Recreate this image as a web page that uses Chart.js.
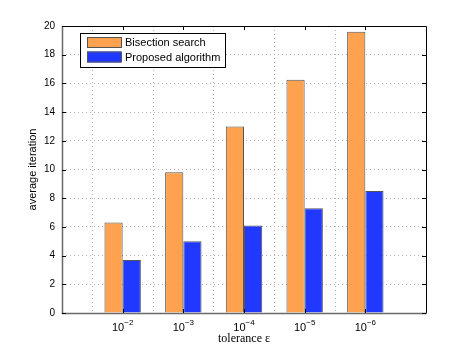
<!DOCTYPE html>
<html>
<head>
<meta charset="utf-8">
<script src="https://cdn.jsdelivr.net/npm/chart.js@4.4.0/dist/chart.umd.min.js"></script>
<style>
  html, body { margin: 0; padding: 0; background: #fff; }
  #wrap { width: 471px; height: 353px; position: relative; }
</style>
</head>
<body>
<div id="wrap"><canvas id="c" width="471" height="353"></canvas></div>
<script>
// ---- data ----
const exponents = [-2, -3, -4, -5, -6];
const categories = exponents.map(e => '10^' + e);
const bisection = [6.3, 9.8, 13.0, 16.25, 19.6];
const proposed = [3.7, 5.0, 6.1, 7.3, 8.5];
const yTicks = [0, 2, 4, 6, 8, 10, 12, 14, 16, 18, 20];
const seriesNames = ['Bisection search', 'Proposed algorithm'];
const seriesColors = ['#FFA24F', '#2038FF'];

// pad one empty slot on each side (axis runs 0..6 with categories at 1..5)
const labels = [''].concat(categories, ['']);
const pad = arr => [null].concat(arr, [null]);

const SANS = '"Liberation Sans", Arial, Helvetica, sans-serif';
const SERIF = '"Liberation Serif", "Times New Roman", serif';

const frame = {
  id: 'frame',
  afterDatasetsDraw(chart) {
    const {ctx, chartArea: a, scales: {x, y}} = chart;
    ctx.save();
    // box
    ctx.strokeStyle = '#000';
    ctx.lineWidth = 1;
    ctx.beginPath();
    ctx.moveTo(a.left + 0.5, a.top + 0.5);
    ctx.lineTo(a.right + 0.5, a.top + 0.5);
    ctx.lineTo(a.right + 0.5, a.bottom + 0.5);
    ctx.stroke();
    ctx.strokeStyle = '#6a6a6a';
    ctx.lineWidth = 1.5;
    ctx.beginPath();
    ctx.moveTo(a.left + 0.5, a.top);
    ctx.lineTo(a.left + 0.5, a.bottom + 0.5);
    ctx.lineTo(a.right + 0.5, a.bottom + 0.5);
    ctx.stroke();
    // inward ticks
    ctx.strokeStyle = '#000';
    ctx.lineWidth = 1;
    const tl = 4;
    yTicks.forEach(v => {
      const py = Math.round(y.getPixelForValue(v)) + 0.5;
      ctx.beginPath();
      ctx.moveTo(a.left, py); ctx.lineTo(a.left + tl, py);
      ctx.moveTo(a.right, py); ctx.lineTo(a.right - tl, py);
      ctx.stroke();
    });
    categories.forEach((c, i) => {
      const px = Math.round(x.getPixelForValue(i + 1)) + 0.5;
      ctx.beginPath();
      ctx.moveTo(px, a.top); ctx.lineTo(px, a.top + tl);
      ctx.moveTo(px, a.bottom); ctx.lineTo(px, a.bottom - tl);
      ctx.stroke();
    });
    // x tick labels: 10 with superscript exponent
    ctx.fillStyle = '#000';
    ctx.textBaseline = 'alphabetic';
    categories.forEach((c, i) => {
      const px = x.getPixelForValue(i + 1);
      const base = '10';
      const sup = '\u2212' + Math.abs(exponents[i]);
      ctx.font = '11px ' + SANS;
      const wb = ctx.measureText(base).width;
      ctx.font = '8px ' + SANS;
      const ws = ctx.measureText(sup).width;
      const x0 = px - (wb + ws) / 2;
      ctx.font = '11px ' + SANS;
      ctx.textAlign = 'left';
      ctx.fillText(base, x0, a.bottom + 18);
      ctx.font = '8px ' + SANS;
      ctx.fillText(sup, x0 + wb, a.bottom + 12);
    });
    // legend
    const lx = 80, ly = 33, lw = 145, lh = 34;
    ctx.fillStyle = '#fff';
    ctx.fillRect(lx, ly, lw, lh);
    ctx.strokeStyle = '#000';
    ctx.lineWidth = 1;
    ctx.strokeRect(lx + 0.5, ly + 0.5, lw, lh);
    chart.data.datasets.forEach((ds, i) => {
      const sy = ly + 4 + i * 14.5;
      ctx.fillStyle = ds.backgroundColor;
      ctx.fillRect(lx + 7, sy, 34, 11);
      ctx.strokeStyle = '#555';
      ctx.strokeRect(lx + 7.5, sy + 0.5, 34, 10);
      ctx.fillStyle = '#000';
      ctx.font = '11px ' + SANS;
      ctx.textAlign = 'left';
      ctx.textBaseline = 'middle';
      ctx.fillText(ds.label, lx + 45, sy + 6);
    });
    ctx.restore();
  }
};

new Chart(document.getElementById('c'), {
  type: 'bar',
  data: {
    labels: labels,
    datasets: [
      { label: seriesNames[0], data: pad(bisection), backgroundColor: seriesColors[0],
        borderColor: '#555', borderWidth: 1 },
      { label: seriesNames[1], data: pad(proposed), backgroundColor: seriesColors[1],
        borderColor: '#555', borderWidth: 1 }
    ]
  },
  options: {
    responsive: false,
    animation: false,
    devicePixelRatio: 1,
    layout: { padding: { top: 26, right: 45, left: 0, bottom: 0 } },
    plugins: { legend: { display: false }, tooltip: { enabled: false } },
    datasets: { bar: { categoryPercentage: 0.6, barPercentage: 1.0 } },
    scales: {
      x: {
        offset: false,
        grid: { color: (c) => (c.index === 0 || c.index === labels.length - 1) ? 'rgba(0,0,0,0)' : '#b0b0b0',
                lineWidth: 1, drawTicks: false },
        border: { display: false, dash: [1, 3] },
        ticks: { display: false },
        afterFit: (s) => { s.height = 40; },
        title: { display: true, text: 'tolerance \u03b5', color: '#000',
                 font: { family: SERIF, size: 12 }, padding: { top: 0, bottom: 7 } }
      },
      y: {
        min: 0, max: 20,
        grid: { color: (c) => (c.tick.value === 0 || c.tick.value === 20) ? 'rgba(0,0,0,0)' : '#b0b0b0',
                lineWidth: 1, drawTicks: false },
        border: { display: false, dash: [1, 3] },
        ticks: { stepSize: 2, color: '#000', padding: 7, font: { family: SANS, size: 10 },
                 callback: (v) => v },
        afterBuildTicks: (s) => { s.ticks = yTicks.map(v => ({ value: v })); },
        afterFit: (s) => { s.width = 62; },
        title: { display: true, text: 'average iteration', color: '#000',
                 font: { family: SANS, size: 11 }, padding: { top: 26 } }
      }
    }
  },
  plugins: [frame]
});
</script>
</body>
</html>
